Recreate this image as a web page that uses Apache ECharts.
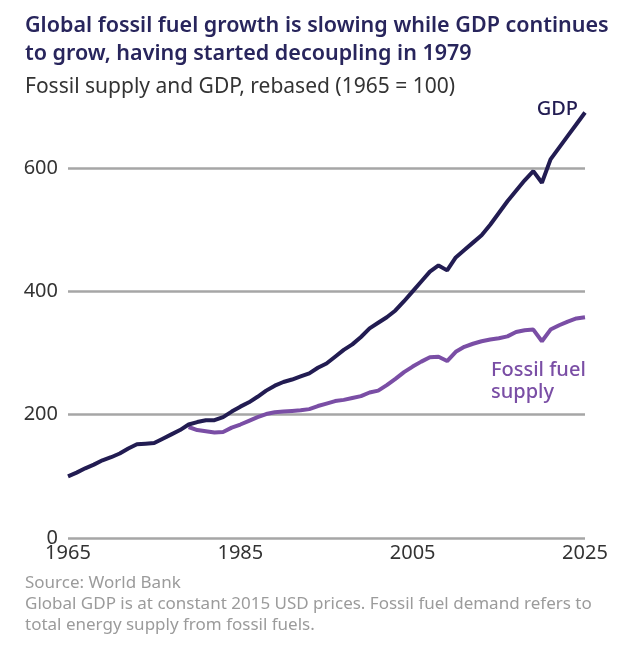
<!DOCTYPE html>
<html>
<head>
<meta charset="utf-8">
<script src="https://cdn.jsdelivr.net/npm/echarts@6/dist/echarts.min.js"></script>
<style>
  html, body { margin: 0; padding: 0; background: #ffffff; }
  #chart_div { width: 641px; height: 648px; }
</style>
</head>
<body>
<div id="chart_div"></div>
<script>
// data (1965 = 100)
var gdp_years = [1965,1966,1967,1968,1969,1970,1971,1972,1973,1974,1975,1976,1977,1978,1979,
	1980,1981,1982,1983,1984,1985,1986,1987,1988,1989,1990,1991,1992,1993,1994,1995,1996,1997,
	1998,1999,2000,2001,2002,2003,2004,2005,2006,2007,2008,2009,2010,2011,2012,2013,2014,2015,
	2016,2017,2018,2019,2020,2021,2022,2023,2024,2025];
var gdp_values = [100,106,113,119,126,131,137,145,152,153,154,161,168,175,184,
	188,191,191,196,205,213,220,229,239,247,253,257,262,267,276,283,294,305,
	314,326,340,349,358,369,384,400,416,432,442,434,455,467,479,491,508,527,
	546,563,580,595,576,614,633,652,671,690];

var fossil_years = [1979,1980,1981,1982,1983,1984,1985,1986,1987,1988,1989,1990,1991,1992,
	1993,1994,1995,1996,1997,1998,1999,2000,2001,2002,2003,2004,2005,2006,2007,2008,2009,
	2010,2011,2012,2013,2014,2015,2016,2017,2018,2019,2020,2021,2022,2023,2024,2025];
var fossil_values = [180,175,173,171,172,179,184,190,196,201,204,205,206,207,
	209,214,218,222,224,227,230,236,239,248,258,269,278,286,293,294,287,
	302,310,315,319,322,324,327,334,337,338,319,338,345,351,356,358];

var x_ticks = [1965, 1985, 2005, 2025];
var y_ticks = [0, 200, 400, 600];

var c_gdp = '#221c52';
var c_fossil = '#7a4ea5';
var c_title = '#28255c';
var f_font = 'Noto Sans';

var f_pairs = function(xs, ys) {
	var t_out = [];
	for (var i = 0; i < xs.length; i++) {
		t_out.push([xs[i], ys[i]]);
	}
	return t_out;
};

var chart = echarts.init(document.getElementById('chart_div'));

chart.setOption({
	backgroundColor: '#ffffff',
	animation: false,
	textStyle: { fontFamily: f_font },
	title: [
		{
			text: 'Global fossil fuel growth is slowing while GDP continues\nto grow, having started decoupling in 1979',
			left: 20, top: 7,
			textStyle: { fontFamily: f_font, fontSize: 21.5, fontWeight: 600, color: c_title, lineHeight: 28 }
		},
		{
			text: 'Fossil supply and GDP, rebased (1965 = 100)',
			left: 20, top: 72,
			textStyle: { fontFamily: f_font, fontSize: 21, fontWeight: 'normal', color: '#333333' }
		},
		{
			text: 'Source: World Bank\nGlobal GDP is at constant 2015 USD prices. Fossil fuel demand refers to\ntotal energy supply from fossil fuels.',
			left: 20, top: 568,
			textStyle: { fontFamily: f_font, fontSize: 17, fontWeight: 'normal', color: '#9b9b9b', lineHeight: 21 }
		}
	],
	grid: { left: 68, right: 56, top: 168, bottom: 110 },
	xAxis: {
		type: 'value',
		min: x_ticks[0], max: x_ticks[x_ticks.length - 1], interval: 20,
		axisLine: { show: false },
		axisTick: { show: false },
		splitLine: { show: false },
		axisLabel: { fontSize: 20, color: '#333333', margin: 5, formatter: function(v) { return String(v); } }
	},
	yAxis: {
		type: 'value',
		min: y_ticks[0], max: y_ticks[y_ticks.length - 1], interval: 200,
		axisLine: { show: false },
		axisTick: { show: false },
		splitLine: { lineStyle: { color: '#a6a6a6', width: 2.5 } },
		axisLabel: { fontSize: 20, color: '#333333', margin: 10 }
	},
	series: [
		{
			name: 'Fossil fuel supply',
			type: 'line',
			data: f_pairs(fossil_years, fossil_values),
			showSymbol: false,
			clip: false,
			lineStyle: { color: c_fossil, width: 4 },
			z: 2
		},
		{
			name: 'GDP',
			type: 'line',
			data: f_pairs(gdp_years, gdp_values),
			showSymbol: false,
			clip: false,
			lineStyle: { color: c_gdp, width: 4 },
			z: 3
		}
	],
	graphic: [
		{
			type: 'text', right: 63, top: 99,
			style: { text: 'GDP', fontFamily: f_font, fontSize: 20, fontWeight: 500, fill: c_gdp }
		},
		{
			type: 'text', left: 491, top: 359,
			style: { text: 'Fossil fuel\nsupply', fontFamily: f_font, fontSize: 20, fontWeight: 500, fill: c_fossil, lineHeight: 22 }
		}
	]
});
</script>
</body>
</html>
